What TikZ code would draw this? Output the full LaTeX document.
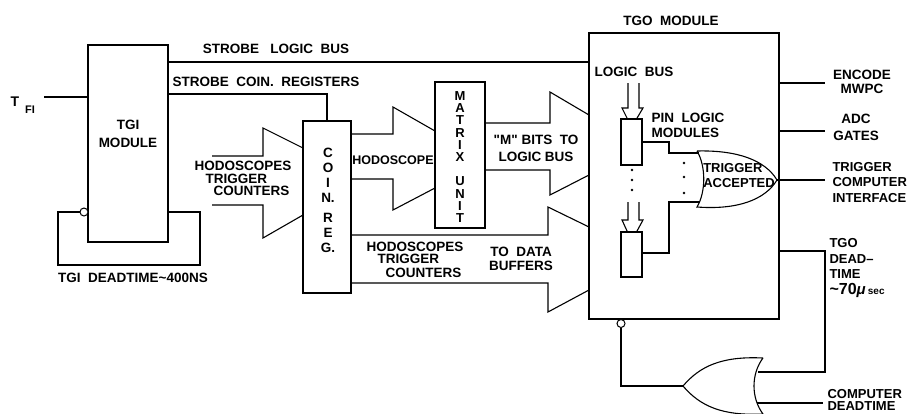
\documentclass[tikz,border=0pt]{standalone}
\usepackage{fontspec}
\setmainfont{Liberation Sans}
\begin{document}
\begin{tikzpicture}[x=1pt,y=-1pt, line width=1.1pt, line join=miter,
  lbl/.style={font=\fontsize{13.5}{14}\selectfont\bfseries, inner sep=0pt, align=center},
  lblw/.style={lbl, anchor=west, align=left},
  boxn/.style={draw, line width=1.1pt, inner sep=0pt, outer sep=0pt},
  bubble/.style={circle, draw, fill=white, minimum size=8pt, inner sep=0pt, line width=1pt},
  dotn/.style={circle, fill, minimum size=2.6pt, inner sep=0pt}]
\useasboundingbox (0,0) rectangle (914,413);

% ---------- boxes ----------
\node[boxn, minimum width=80pt, minimum height=197pt] (tgi) at (128,143.5) {};
\node[boxn, minimum width=48pt, minimum height=172pt] (coin) at (327,207) {};
\node[boxn, minimum width=50pt, minimum height=146pt] (matrix) at (460,155) {};
\node[boxn, minimum width=190pt, minimum height=286pt] (tgo) at (684,176) {};
\node[boxn, minimum width=21pt, minimum height=46pt] (pin1) at (631.5,142) {};
\node[boxn, minimum width=21pt, minimum height=45pt] (pin2) at (631.5,254.5) {};

% ---------- texts in boxes ----------
\node[lbl, font=\fontsize{13.5}{18}\selectfont\bfseries] (tgit) at (128,134) {TGI\\MODULE};
\node[lbl, font=\fontsize{13.5}{15}\selectfont\bfseries] (coint) at (328,200) {C\\O\\I\\N.\\[5pt]R\\E\\G.};
\node[lbl, font=\fontsize{13}{12.3}\selectfont\bfseries] (matt) at (460,157) {M\\A\\T\\R\\I\\X\\[12pt]U\\N\\I\\T};

% ---------- TFI and TGI loop ----------
\node[lbl, font=\fontsize{14}{14}\selectfont\bfseries] (tfiT) at (15,102) {T};
\node[lbl, font=\fontsize{11}{11}\selectfont\bfseries] (tfiS) at (30,110) {FI};
\coordinate (tfi) at (44,97);
\draw (tfi) -- (tfi -| tgi.west);

\node[bubble] (bub1) at (84,212) {};
\coordinate (l1) at (58,212);
\coordinate (l2) at (58,265);
\coordinate (l3) at (200,265);
\coordinate (l4) at (200,212);
\draw (bub1.west) -- (l1) -- (l2) -- (l3) -- (l4) -- (l4 -| tgi.east);
\node[lbl] (tgidt) at (133,278) {TGI\ \ DEADTIME\textasciitilde400NS};

% ---------- strobes ----------
\coordinate (s1) at (0,62);
\coordinate (s2) at (0,94);
\draw (s1 -| tgi.east) -- (s1 -| tgo.west);
\node[lbl] (slb) at (276,49) {STROBE\ \ \ LOGIC\ \ BUS};
\draw (s2 -| tgi.east) -- (s2 -| coin.north) -- (coin.north);
\node[lbl] (scr) at (266,82) {STROBE\ \ COIN.\ \ REGISTERS};

% ---------- big arrows ----------
% into COIN. REG.
\coordinate (a1) at (212,156); \coordinate (a2) at (263,156); \coordinate (a3) at (263,128); \coordinate (a4) at (0,148);
\coordinate (a5) at (212,205); \coordinate (a6) at (263,205); \coordinate (a7) at (263,238); \coordinate (a8) at (0,215);
\draw (a1) -- (a2) -- (a3) -- (a4 -| coin.west);
\draw (a5) -- (a6) -- (a7) -- (a8 -| coin.west);
\node[lblw] (h1) at (194,166) {HODOSCOPES};
\node[lblw] (h2) at (205,178.5) {TRIGGER};
\node[lblw] (h3) at (213,191) {COUNTERS};

% COIN -> MATRIX
\coordinate (b1) at (0,134); \coordinate (b2) at (393,134); \coordinate (b3) at (393,107); \coordinate (b4) at (0,131);
\coordinate (b5) at (0,179); \coordinate (b6) at (393,179); \coordinate (b7) at (393,210); \coordinate (b8) at (0,188);
\draw (b1 -| coin.east) -- (b2) -- (b3) -- (b4 -| matrix.west);
\draw (b5 -| coin.east) -- (b6) -- (b7) -- (b8 -| matrix.west);
\node[lbl, font=\fontsize{12.5}{13}\selectfont\bfseries] (hodo) at (393,160) {HODOSCOPE};

% MATRIX -> TGO
\coordinate (c1) at (0,123); \coordinate (c2) at (550,123); \coordinate (c3) at (550,92); \coordinate (c4) at (0,115);
\coordinate (c5) at (0,170); \coordinate (c6) at (550,170); \coordinate (c7) at (550,195); \coordinate (c8) at (0,175);
\draw (c1 -| matrix.east) -- (c2) -- (c3) -- (c4 -| tgo.west);
\draw (c5 -| matrix.east) -- (c6) -- (c7) -- (c8 -| tgo.west);
\node[lbl, font=\fontsize{13.5}{17}\selectfont\bfseries] (mbits) at (536,148.5) {\textquotedbl M\textquotedbl\ BITS\ \ TO\\LOGIC\ BUS};

% COIN -> TGO data buffers
\coordinate (d1) at (0,235); \coordinate (d2) at (548,235); \coordinate (d3) at (548,207); \coordinate (d4) at (0,227);
\coordinate (d5) at (0,283); \coordinate (d6) at (548,283); \coordinate (d7) at (548,312); \coordinate (d8) at (0,290);
\draw (d1 -| coin.east) -- (d2) -- (d3) -- (d4 -| tgo.west);
\draw (d5 -| coin.east) -- (d6) -- (d7) -- (d8 -| tgo.west);
\node[lblw] (g1) at (366,246.5) {HODOSCOPES};
\node[lblw] (g2) at (377,259) {TRIGGER};
\node[lblw] (g3) at (385,272.5) {COUNTERS};
\node[lbl] (tdb) at (521,259) {TO\ \ DATA\\BUFFERS};

% ---------- inside TGO ----------
\node[lbl] (tgol) at (671,21) {TGO\ \ MODULE};
\node[lbl] (lbus) at (634,72) {LOGIC\ \ BUS};
\node[lblw, font=\fontsize{13.5}{15}\selectfont\bfseries] (pinl) at (651,125.5) {PIN\ \ LOGIC\\MODULES};

\coordinate (p1) at (628,83); \coordinate (p2) at (628,108); \coordinate (p3) at (622,108); \coordinate (p4) at (627.5,0);
\coordinate (q1) at (639,83); \coordinate (q2) at (639,108); \coordinate (q3) at (643,108); \coordinate (q4) at (636.5,0);
\draw (p1) -- (p2) -- (p3) -- (p4 |- pin1.north);
\draw (q1) -- (q2) -- (q3) -- (q4 |- pin1.north);
\coordinate (r1) at (628,202); \coordinate (r2) at (628,220); \coordinate (r3) at (622,220);
\coordinate (t1) at (639,202); \coordinate (t2) at (639,220); \coordinate (t3) at (643,220);
\draw (r1) -- (r2) -- (r3) -- (p4 |- pin2.north);
\draw (t1) -- (t2) -- (t3) -- (q4 |- pin2.north);

\node[dotn] (dd1) at (632,170) {};
\node[dotn] (dd2) at (632,180) {};
\node[dotn] (dd3) at (632,190) {};
\node[dotn] (de1) at (684,163) {};
\node[dotn] (de2) at (684,177) {};
\node[dotn] (de3) at (684,193) {};

% OR gate "TRIGGER ACCEPTED"
\coordinate (o1t) at (697,151);
\coordinate (o1b) at (697,207);
\coordinate (o1out) at (777,180);
\draw (o1t) .. controls (737,150) and (765,160) .. (o1out)
      .. controls (765,200) and (737,210) .. (o1b)
      .. controls (706,192) and (706,166) .. (o1t);
\node[lbl, align=left, font=\fontsize{13}{15}\selectfont\bfseries] (trigacc) at (739,175.5) {TRIGGER\\ACCEPTED};

\coordinate (m1) at (669,142); \coordinate (m2) at (669,153); \coordinate (m3) at (699,153);
\coordinate (n1) at (669,253); \coordinate (n2) at (669,202); \coordinate (n3) at (700,202);
\draw (m1 -| pin1.east) -- (m1) -- (m2) -- (m3);
\draw (n1 -| pin2.east) -- (n1) -- (n2) -- (n3);

% ---------- right outputs ----------
\coordinate (e1) at (825,83); \coordinate (e2) at (825,131); \coordinate (e3) at (825,180);
\draw (e1 -| tgo.east) -- (e1);
\draw (e2 -| tgo.east) -- (e2);
\draw (o1out) -- (e3);
\node[lbl] (enc) at (862,82) {ENCODE\\MWPC};
\node[lbl, font=\fontsize{13.5}{17}\selectfont\bfseries] (adc) at (856,127) {ADC\\GATES};
\node[lblw, font=\fontsize{13}{15.5}\selectfont\bfseries] (tci) at (832,182.5) {TRIGGER\\COMPUTER\\INTERFACE};

% TGO deadtime loop
\coordinate (f1) at (825,251); \coordinate (f2) at (825,372); \coordinate (f3) at (758,372);
\draw (f1 -| tgo.east) -- (f1) -- (f2) -- (f3);
\node[lblw, font=\fontsize{13}{15.5}\selectfont\bfseries] (tgodt) at (829,268) {TGO\\DEAD\textendash\\TIME\\{\fontsize{16}{15}\selectfont\textasciitilde70}{\fontsize{15}{15}\selectfont\itshape μ}\,{\fontsize{10}{12}\selectfont sec}};

% bottom OR gate
\coordinate (o2t) at (763,358);
\coordinate (o2b) at (763,414);
\coordinate (o2out) at (683,386);
\draw (o2t) .. controls (722,356) and (700,366) .. (o2out)
      .. controls (700,406) and (722,416) .. (o2b)
      .. controls (751,398) and (751,374) .. (o2t);
\coordinate (k1) at (757,403); \coordinate (k2) at (823,403);
\draw (k1) -- (k2);
\node[lblw, font=\fontsize{13}{12}\selectfont\bfseries] (cdt) at (827,400) {COMPUTER\\DEADTIME};

\node[bubble] (bub2) at (621,323.5) {};
\coordinate (u1) at (621,386);
\draw (o2out) -- (u1) -- (bub2.south);
\end{tikzpicture}
\end{document}
